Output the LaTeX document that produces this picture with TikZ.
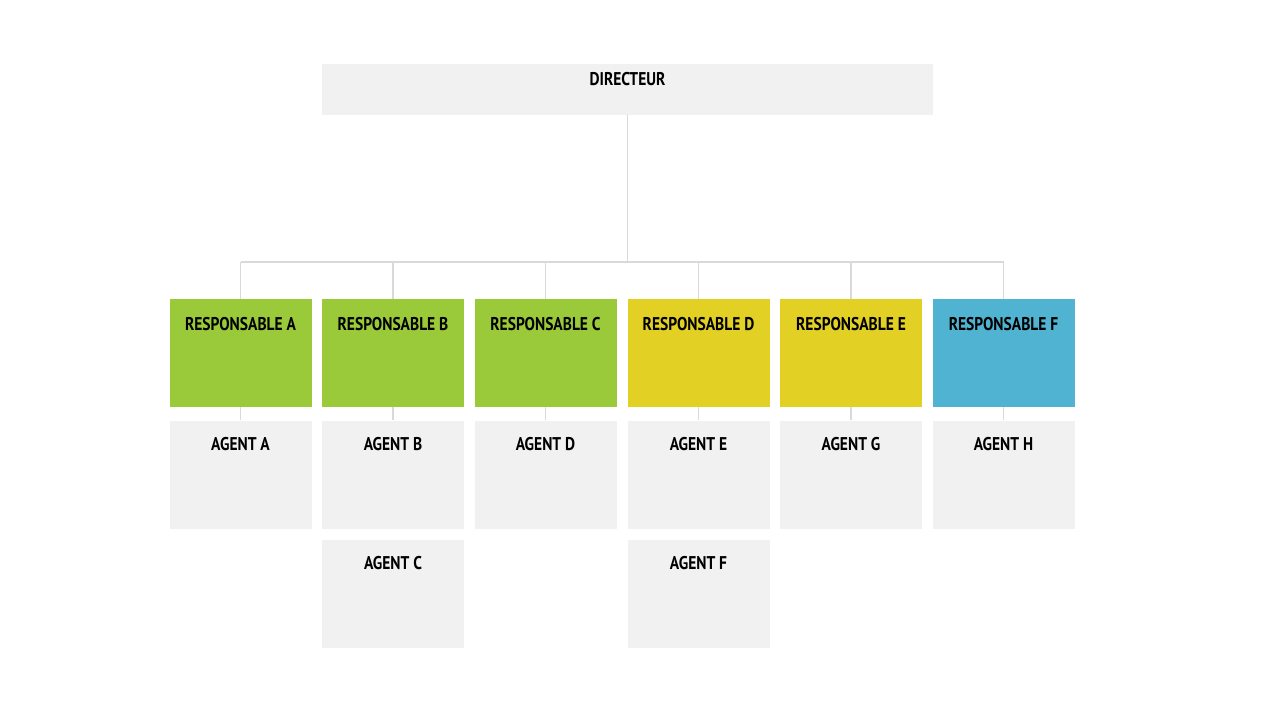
\documentclass[tikz,border=0pt]{standalone}
\usepackage{fontspec}
\setmainfont{PT Sans}[FakeStretch=0.84]
\definecolor{boxgray}{RGB}{241,241,241}
\definecolor{linegray}{RGB}{217,217,217}
\definecolor{respgreen}{RGB}{154,202,58}
\definecolor{respyellow}{RGB}{227,208,36}
\definecolor{respblue}{RGB}{79,179,209}

\tikzset{
  unitbox/.style={rectangle, inner sep=0pt, minimum width=142*0.02cm, minimum height=108*0.02cm},
  agentbox/.style={unitbox, fill=boxgray},
  boxtitle/.style={font=\bfseries\fontsize{10.5}{12}\selectfont, text=black},
  link/.style={draw=linegray, line width=0.6pt}
}

\begin{document}
\begin{tikzpicture}[x=0.02cm, y=-0.02cm]
\useasboundingbox (0,0) rectangle (1280,711);

% director
\node [rectangle, fill=boxgray, inner sep=0pt, minimum width=611*0.02cm, minimum height=51*0.02cm] (dir) at (627.5,89.5) {};
\node [boxtitle] at ([yshift=-15.5*0.02cm]dir.north) {DIRECTEUR};
\coordinate (bus) at (0,262);

% responsables
\foreach \x/\n/\c in {240.5/A/respgreen, 393/B/respgreen, 545.5/C/respgreen, 698.5/D/respyellow, 851/E/respyellow, 1003.5/F/respblue}{
  \node [unitbox, fill=\c] (r\n) at (\x,353) {};
  \node [boxtitle] at ([yshift=-25*0.02cm]r\n.north) {RESPONSABLE \n};
  \draw [link] (r\n.north) -- (r\n.north |- bus);
}
\draw [link] (rA.north |- bus) -- (rF.north |- bus);
\draw [link] (dir.south) -- (dir.south |- bus);

% agents
\foreach \r/\a/\y in {A/A/474.5, B/B/474.5, C/D/474.5, D/E/474.5, E/G/474.5, F/H/474.5, B/C/593.5, D/F/593.5}{
  \node [agentbox] (ag\a) at (r\r |- 0,\y) {};
  \node [boxtitle] at ([yshift=-23.5*0.02cm]ag\a.north) {AGENT \a};
}
\foreach \r/\a in {A/A, B/B, C/D, D/E, E/G, F/H}{
  \draw [link] (r\r.south) -- (ag\a.north);
}
\end{tikzpicture}
\end{document}
